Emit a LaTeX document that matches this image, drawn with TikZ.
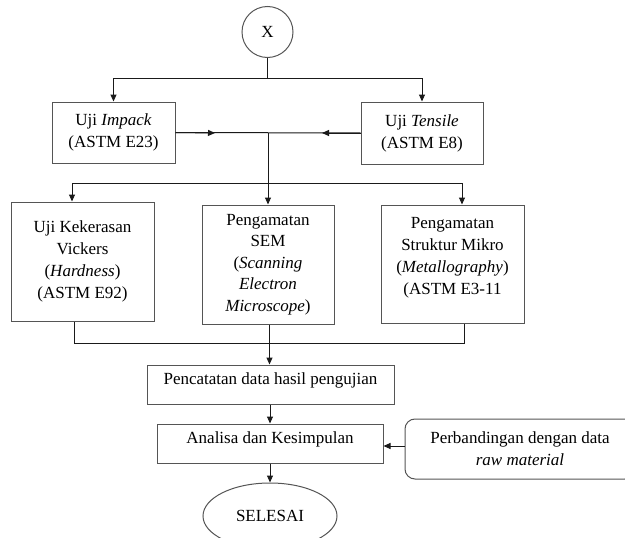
\documentclass[tikz,border=0pt]{standalone}
\usepackage{fontspec}
\setmainfont{Liberation Serif}
\usetikzlibrary{arrows.meta,shapes.geometric}
\definecolor{bordergray}{HTML}{555555}
\definecolor{linegray}{HTML}{1A1A1A}
\begin{document}
\begin{tikzpicture}[x=1pt,y=-1pt,
  bx/.style={draw=bordergray, line width=1pt, inner sep=0pt, align=center,
    font=\fontsize{17}{22}\selectfont, text=black},
  conn/.style={draw=linegray, line width=1pt},
  arr/.style={conn, -{Triangle[length=7pt,width=6pt]}},
  midarr/.style={conn, -{Triangle[length=7pt,width=6pt]}},
]
\useasboundingbox (0,0) rectangle (625,538);

% nodes
\node[bx, circle, minimum size=51pt] (xx) at (267.5,32) {X};
\node[bx, minimum width=123pt, minimum height=61pt] (imp) at (113.5,132.5)
  {Uji \textit{Impack}\\(ASTM E23)};
\node[bx, minimum width=122pt, minimum height=62pt] (tens) at (422,133)
  {Uji \textit{Tensile}\\(ASTM E8)};
\node[bx, minimum width=143pt, minimum height=119pt] (kek) at (82.5,261.5)
  {Uji Kekerasan\\Vickers\\(\textit{Hardness})\\(ASTM E92)};
\node[bx, minimum width=132pt, minimum height=119pt,
  font=\fontsize{17}{21.5}\selectfont] (sem) at (268,264.5)
  {Pengamatan\\SEM\\(\textit{Scanning}\\\textit{Electron}\\\textit{Microscope})};
\node[bx, minimum width=143pt, minimum height=118pt, text depth=16pt] (mik) at (452.5,264)
  {Pengamatan\\Struktur Mikro\\(\textit{Metallography})\\(ASTM E3-11};
\node[bx, minimum width=247pt, minimum height=39pt, text height=11.5pt, text depth=11.5pt] (pen) at (270.5,384.5)
  {Pencatatan data hasil pengujian};
\node[bx, minimum width=226pt, minimum height=39pt, text height=11.5pt, text depth=11.5pt] (ana) at (270,443.5)
  {Analisa dan Kesimpulan};
\node[bx, rounded corners=10pt, minimum width=230pt, minimum height=60pt] (perb) at (520,449)
  {Perbandingan dengan data\\\textit{raw material}};
\node[bx, ellipse, minimum width=134pt, minimum height=66pt] (sel) at (270,516)
  {SELESAI};

% junction coordinates
\coordinate (jtop) at (267.5,78);
\coordinate (jmid) at (268,133);
\coordinate (jrow) at (268,183);
\coordinate (jbot) at (269.5,343);
\coordinate (mA) at (215,133);
\coordinate (mB) at (322,133);

% top split
\draw[conn] (xx.south) -- (jtop);
\draw[arr] (jtop) -| (imp.north);
\draw[arr] (jtop) -| (tens.north);

% merge of tests
\draw[conn] (imp.east) -- (tens.west);
\draw[midarr] (imp.east) -- (mA);
\draw[midarr] (tens.west) -- (mB);
\draw[conn] (jmid) -- (jrow);

% split into three
\draw[arr] (jrow) -| ([xshift=-10.5pt]kek.north);
\draw[arr] (jrow) -- (sem.north);
\draw[arr] (jrow) -| ([xshift=9.5pt]mik.north);

% merge of three
\draw[conn] ([xshift=-8pt]kek.south) |- (jbot);
\draw[conn] ([xshift=11.5pt]mik.south) |- (jbot);
\draw[conn] ([xshift=1.5pt]sem.south) -- (jbot);
\draw[arr] (jbot) -- (jbot |- pen.north);

\draw[arr] (pen.south -| ana.north) -- (ana.north);
\draw[arr] ([yshift=3pt]perb.west) -- ([yshift=3pt]perb.west -| ana.east);
\draw[arr] (ana.south) -- (sel.north);
\end{tikzpicture}
\end{document}
